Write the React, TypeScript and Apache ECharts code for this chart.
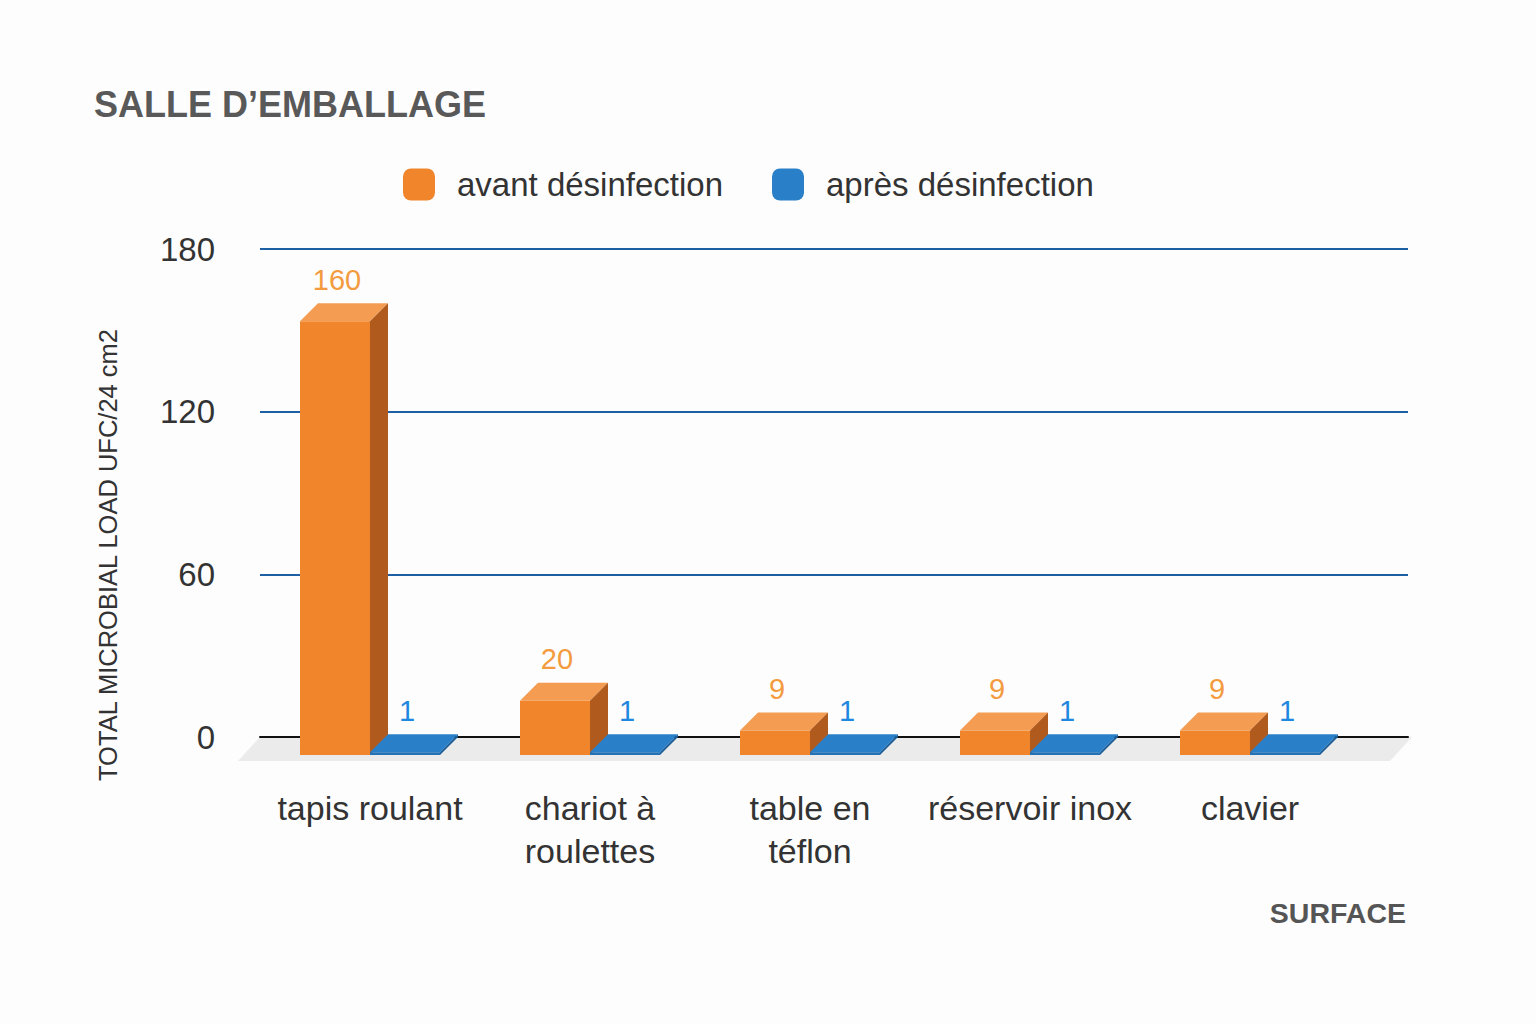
import React, { useEffect, useRef } from "react";
import * as echarts from "echarts";

const categories = ["tapis roulant", "chariot à\nroulettes", "table en\ntéflon", "réservoir inox", "clavier"];
const avantValues = [160, 20, 9, 9, 9];
const apresValues = [1, 1, 1, 1, 1];
const yTicks = { min: 0, max: 180, interval: 60 };
const seriesNames = ["avant désinfection", "après désinfection"];

const FONT = "'Liberation Sans', Arial, sans-serif";
const BAR_W = 70;
const D = 18;

const ORANGE = { front: "#f0852b", top: "#f39c52", side: "#b05a1e", label: "#f39b3e" };
const BLUE = { front: "#2571b5", top: "#2a80c8", side: "#1c5d97", label: "#1e88e0" };

function makeRender(side: number, c: typeof ORANGE) {
  return (params: any, api: any) => {
    const idx = api.value(0);
    const v = api.value(1);
    const base = api.coord([idx, 0]);
    const top = api.coord([idx, v]);
    const x0 = side < 0 ? base[0] - BAR_W : base[0];
    const x1 = x0 + BAR_W;
    const yb = base[1];
    const yt = top[1];
    return {
      type: "group",
      children: [
        { type: "rect", shape: { x: x0, y: yt, width: BAR_W, height: yb - yt }, style: { fill: c.front } },
        {
          type: "polygon",
          shape: { points: [[x0, yt], [x1, yt], [x1 + D, yt - D], [x0 + D, yt - D]] },
          style: { fill: c.top },
        },
        {
          type: "polygon",
          shape: { points: [[x1, yt], [x1 + D, yt - D], [x1 + D, yb - D], [x1, yb]] },
          style: { fill: c.side },
        },
        {
          type: "text",
          style: {
            text: String(v),
            x: (x0 + x1) / 2 + 2,
            y: yt - D - 9,
            align: "center",
            verticalAlign: "bottom",
            fill: c.label,
            font: `29px ${FONT}`,
          },
        },
      ],
    };
  };
}

export default function App() {
  const ref = useRef<HTMLDivElement>(null);
  useEffect(() => {
    if (!ref.current) return;
    const chart = echarts.init(ref.current, undefined, { renderer: "svg" });
    const option: any = {
      animation: false,
      backgroundColor: "#fdfdfd",
      textStyle: { fontFamily: FONT },
      title: {
        text: "SALLE D\u2019EMBALLAGE",
        left: 89,
        top: 81,
        textStyle: { fontSize: 36, fontWeight: "bold", color: "#595959", fontFamily: FONT },
      },
      legend: {
        left: 398,
        top: 163,
        itemWidth: 32,
        itemHeight: 32,
        itemGap: 49,
        icon: "roundRect",
        data: seriesNames,
        textStyle: { fontSize: 33, color: "#333", padding: [0, 0, 0, 17], fontFamily: FONT },
      },
      grid: [
        { left: 260, right: 128, top: 249, bottom: 287 },
        { left: 260, right: 176, top: 267, bottom: 269 },
      ],
      xAxis: [
        {
          gridIndex: 0,
          type: "value",
          min: 0,
          max: 1,
          axisLabel: { show: false },
          axisTick: { show: false },
          splitLine: { show: false },
          axisLine: { show: true, lineStyle: { color: "#111", width: 2 } },
          z: 3,
        },
        {
          gridIndex: 1,
          type: "category",
          data: categories,
          axisLine: { show: false },
          axisTick: { show: false },
          axisLabel: { interval: 0, fontSize: 34, color: "#333", lineHeight: 43, margin: 31, fontFamily: FONT },
        },
      ],
      yAxis: [
        {
          gridIndex: 0,
          type: "value",
          min: yTicks.min,
          max: yTicks.max,
          interval: yTicks.interval,
          axisLine: { show: false },
          axisTick: { show: false },
          axisLabel: { fontSize: 33, color: "#333", margin: 45, fontFamily: FONT },
          splitLine: { lineStyle: { color: "#1d5fa3", width: 2 } },
        },
        {
          gridIndex: 1,
          type: "value",
          min: yTicks.min,
          max: yTicks.max,
          interval: yTicks.interval,
          show: false,
          splitLine: { show: false },
        },
      ],
      graphic: [
        {
          type: "polygon",
          z: 0,
          shape: { points: [[260, 737], [1412, 737], [1390, 761], [238, 761]] },
          style: { fill: "#ebebeb" },
        },
        {
          type: "text",
          x: 108,
          y: 555,
          rotation: Math.PI / 2,
          style: {
            text: "TOTAL MICROBIAL LOAD UFC/24 cm2",
            font: `25.5px ${FONT}`,
            fill: "#333",
            align: "center",
            verticalAlign: "middle",
          },
        },
        {
          type: "text",
          right: 130,
          top: 898,
          style: { text: "SURFACE", font: `bold 28.5px ${FONT}`, fill: "#555" },
        },
      ],
      series: [
        {
          name: seriesNames[0],
          type: "custom",
          xAxisIndex: 1,
          yAxisIndex: 1,
          itemStyle: { color: ORANGE.front },
          renderItem: makeRender(-1, ORANGE),
          data: avantValues.map((v, i) => [i, v]),
          z: 5,
        },
        {
          name: seriesNames[1],
          type: "custom",
          xAxisIndex: 1,
          yAxisIndex: 1,
          itemStyle: { color: BLUE.top },
          renderItem: makeRender(1, BLUE),
          data: apresValues.map((v, i) => [i, v]),
          z: 6,
        },
      ],
    };
    chart.setOption(option);
    return () => chart.dispose();
  }, []);
  return <div ref={ref} style={{ position: "fixed", left: 0, top: 0, width: 1536, height: 1024 }} />;
}
